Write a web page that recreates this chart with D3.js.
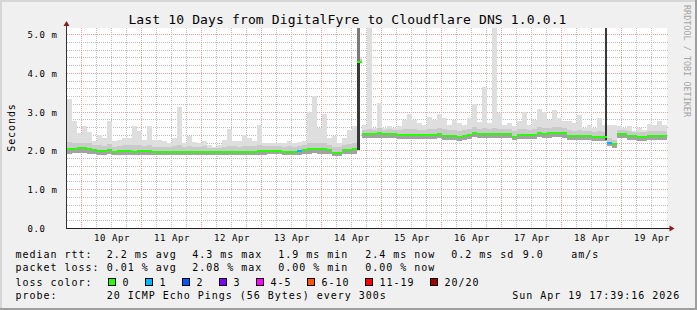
<!DOCTYPE html>
<html><head><meta charset="utf-8">
<script src="https://cdn.jsdelivr.net/npm/d3@7"></script>
<style>
html,body{margin:0;padding:0;background:#f0f0f0;}
svg{display:block;}
text{font-family:"DejaVu Sans Mono",monospace;fill:#000;}
</style></head><body>
<svg id="c" width="697" height="310"></svg>
<script>
// ---------------- data ----------------
const title = "Last 10 Days from DigitalFyre to Cloudflare DNS 1.0.0.1";
const startTime = "2026-04-09T18:00:00Z";
const endTime = "2026-04-19T18:00:00Z";
const binHours = 2;
const yTickValues = [0, 1, 2, 3, 4, 5];
const yTickLabels = ["0.0", "1.0 m", "2.0 m", "3.0 m", "4.0 m", "5.0 m"];
const xTickDays = ["2026-04-10","2026-04-11","2026-04-12","2026-04-13","2026-04-14","2026-04-15","2026-04-16","2026-04-17","2026-04-18","2026-04-19"];
const xTickLabels = ["10 Apr","11 Apr","12 Apr","13 Apr","14 Apr","15 Apr","16 Apr","17 Apr","18 Apr","19 Apr"];

// median RTT per 2h bin (ms)
const median = [
 2.03,2.04,2.06,2.05,2.03,2.00,1.98,1.98,2.00,1.97,1.98,1.98,1.98,1.97,1.98,1.98,1.98,1.96,1.95,1.95,
 1.96,1.97,1.97,1.97,1.97,1.97,1.97,1.96,1.96,1.95,1.95,1.95,1.96,1.96,1.96,1.96,1.96,1.97,1.98,1.98,
 1.99,1.99,1.99,1.97,1.97,1.97,1.98,2.00,2.03,2.04,2.03,2.03,2.00,1.93,1.93,2.00,2.01,2.03,4.29,2.42,
 2.41,2.41,2.44,2.41,2.41,2.41,2.40,2.39,2.39,2.39,2.39,2.39,2.39,2.40,2.42,2.38,2.38,2.36,2.35,2.37,
 2.40,2.46,2.41,2.41,2.41,2.41,2.41,2.41,2.41,2.35,2.39,2.39,2.39,2.40,2.46,2.43,2.45,2.46,2.46,2.44,
 2.37,2.36,2.36,2.36,2.36,2.35,2.35,2.34,2.20,2.16,2.41,2.42,2.37,2.36,2.35,2.35,2.36,2.36,2.37,2.37
];
// lowest ping per bin (ms)
const smokeLo = [
 1.92,1.93,1.94,1.93,1.92,1.90,1.89,1.89,1.90,1.88,1.89,1.89,1.89,1.88,1.89,1.89,1.89,1.87,1.87,1.87,
 1.88,1.88,1.88,1.88,1.88,1.88,1.88,1.87,1.87,1.87,1.87,1.87,1.87,1.87,1.87,1.87,1.87,1.88,1.89,1.89,
 1.90,1.90,1.90,1.88,1.88,1.88,1.89,1.90,1.92,1.93,1.92,1.92,1.90,1.86,1.86,1.90,1.91,1.92,4.25,2.32,
 2.31,2.31,2.33,2.31,2.31,2.31,2.30,2.29,2.29,2.29,2.29,2.29,2.29,2.30,2.31,2.28,2.28,2.26,2.25,2.27,
 2.30,2.34,2.31,2.31,2.31,2.31,2.31,2.31,2.31,2.26,2.29,2.29,2.29,2.30,2.34,2.32,2.33,2.34,2.34,2.33,
 2.27,2.26,2.26,2.26,2.26,2.25,2.25,2.24,2.11,2.07,2.31,2.32,2.27,2.26,2.25,2.25,2.26,2.26,2.27,2.27
];
// upper edge of the dense part of the smoke (ms)
const smokeHi = [
 2.22,2.20,2.20,2.20,2.18,2.13,2.13,2.12,2.16,2.10,2.12,2.13,2.13,2.14,2.14,2.12,2.14,2.10,2.10,2.10,
 2.10,2.12,2.14,2.10,2.12,2.10,2.10,2.11,2.07,2.06,2.07,2.10,2.12,2.11,2.10,2.12,2.12,2.11,2.14,2.12,
 2.12,2.12,2.11,2.10,2.11,2.10,2.12,2.14,2.18,2.20,2.18,2.20,2.14,2.10,2.08,2.14,2.16,2.20,4.35,2.53,
 2.56,2.52,2.58,2.52,2.54,2.52,2.53,2.54,2.56,2.54,2.53,2.53,2.55,2.54,2.58,2.54,2.52,2.52,2.50,2.52,
 2.54,2.60,2.54,2.58,2.54,2.58,2.56,2.54,2.54,2.50,2.54,2.56,2.53,2.55,2.60,2.58,2.58,2.60,2.60,2.58,
 2.52,2.50,2.52,2.50,2.50,2.48,2.50,2.48,2.32,2.28,2.53,2.53,2.50,2.48,2.48,2.48,2.50,2.50,2.50,2.50
];
// highest ping per bin (ms)
const smokeMax = [
 3.33,2.75,2.46,2.63,2.47,2.23,2.40,2.32,2.77,2.23,2.27,2.32,2.33,2.63,2.49,2.27,2.63,2.27,2.27,2.23,
 2.20,2.32,3.13,2.19,2.38,2.21,2.19,2.25,2.13,2.10,2.15,2.27,2.56,2.25,2.23,2.40,2.33,2.23,2.66,2.19,
 2.19,2.19,2.19,2.19,2.23,2.19,2.21,2.25,2.99,3.39,2.57,2.94,2.32,2.36,2.19,2.32,2.53,2.62,4.40,2.66,
 5.30,2.57,3.22,2.57,2.64,2.57,2.62,2.79,2.94,2.79,2.70,2.66,2.87,2.79,2.94,2.84,2.66,2.79,2.70,2.66,
 2.84,3.20,2.72,3.63,2.70,5.30,2.96,2.66,2.70,2.62,2.75,2.99,2.66,2.79,3.07,2.99,2.79,3.05,2.84,2.75,
 2.75,2.70,2.92,2.59,2.66,2.57,2.84,2.66,2.66,2.66,2.62,2.59,2.62,2.49,2.57,2.53,2.68,2.66,2.75,2.66
];
// bins with lost packets
const lossBin = [46, 108];
const lossCount = [1, 1];
// short bursts where all pings were spread high
const burstStart = ["2026-04-14T13:53:00Z", "2026-04-18T17:05:00Z"];
const burstEnd   = ["2026-04-14T15:12:00Z", "2026-04-18T18:07:00Z"];
const burstLo    = [2.00, 2.27];
const burstMid   = [4.25, 5.30];
const burstHi    = [5.30, 5.30];

const lossLabels = ["0","1","2","3","4-5","6-10","11-19","20/20"];
const lossUpper  = [0, 1, 2, 3, 5, 10, 19, 20];
const lossColors = ["#26ff00","#00b8ff","#0059ff","#7e00ff","#ff00ff","#ff5500","#ff0000","#a10000"];

const statRows = [
 ["median rtt:", "2.2 ms avg", "4.3 ms max", "1.9 ms min", "2.4 ms now", "0.2 ms sd", "9.0", "am/s"],
 ["packet loss:", "0.01 % avg", "2.08 % max", "0.00 % min", "0.00 % now"]
];
const probeText = "20 ICMP Echo Pings (56 Bytes) every 300s";
const stampText = "Sun Apr 19 17:39:16 2026";

// ---------------- drawing ----------------
const W = 697, H = 310;
const P = {left: 67, right: 667, top: 28, bottom: 228};
const yMax = 200 / 38.8;
const svg = d3.select("#c");
const xS = d3.scaleUtc().domain([new Date(startTime), new Date(endTime)]).range([P.left, P.right]);
const yS = d3.scaleLinear().domain([0, yMax]).range([P.bottom, P.top]);

svg.append("rect").attr("width", W).attr("height", H).attr("fill", "#f0f0f0");
svg.append("rect").attr("x",0).attr("y",0).attr("width",W).attr("height",2).attr("fill","#d6d6d6");
svg.append("rect").attr("x",0).attr("y",0).attr("width",2).attr("height",H).attr("fill","#d6d6d6");
svg.append("rect").attr("x",0).attr("y",H-2).attr("width",W).attr("height",2).attr("fill","#9e9e9e");
svg.append("rect").attr("x",W-2).attr("y",0).attr("width",2).attr("height",H).attr("fill","#9e9e9e");
svg.append("rect").attr("x", P.left).attr("y", P.top).attr("width", P.right-P.left).attr("height", P.bottom-P.top).attr("fill", "#fff");

// grid
const grid = svg.append("g").attr("shape-rendering","crispEdges");
d3.range(1, 26).forEach(k => {
  const v = k * 0.2;
  const y = Math.round(yS(v)) + 0.5;
  const major = k % 5 === 0;
  grid.append("line").attr("x1", P.left).attr("x2", P.right+1).attr("y1", y).attr("y2", y)
    .attr("stroke", major ? "#e3a0a0" : "#bdbdbd").attr("stroke-dasharray", "1,1");
});
const t0 = +new Date(startTime);
d3.range(1, 40).forEach(k => {
  const t = new Date(t0 + k * 6 * 3600e3);
  const x = Math.round(xS(t)) - 0.5;
  const major = t.getUTCHours() === 0;
  grid.append("line").attr("x1", x).attr("x2", x).attr("y1", P.top).attr("y2", P.bottom)
    .attr("stroke", major ? "#e3a0a0" : "#bdbdbd").attr("stroke-dasharray", "1,1");
});

// data
svg.append("clipPath").attr("id","pc").append("rect")
  .attr("x", P.left).attr("y", P.top).attr("width", P.right-P.left).attr("height", P.bottom-P.top);
const dg = svg.append("g").attr("clip-path","url(#pc)").attr("shape-rendering","crispEdges");
const binMs = binHours * 3600e3;
const bins = median.map((m, i) => ({
  x0: xS(new Date(t0 + i*binMs)), x1: xS(new Date(t0 + (i+1)*binMs)),
  m, lo: smokeLo[i], hi: smokeHi[i], mx: smokeMax[i]
}));
function layer(a, b, color) {
  dg.append("g").selectAll("rect").data(bins).join("rect")
    .attr("x", d => d.x0).attr("width", d => d.x1 - d.x0)
    .attr("y", d => yS(d[b])).attr("height", d => Math.max(0, yS(d[a]) - yS(d[b])))
    .attr("fill", color);
}
layer("lo", "mx", "#dedede");
layer("lo", "hi", "#cacaca");
layer("lo", "m", "#a2a2a2");

burstStart.forEach((s, i) => {
  const xa = xS(new Date(s)), xb = xS(new Date(burstEnd[i]));
  dg.append("rect").attr("x", xa).attr("width", xb-xa)
    .attr("y", yS(burstMid[i])).attr("height", yS(burstLo[i]) - yS(burstMid[i])).attr("fill", "#383838");
  if (burstHi[i] > burstMid[i])
    dg.append("rect").attr("x", xa).attr("width", xb-xa)
      .attr("y", yS(burstHi[i])).attr("height", yS(burstMid[i]) - yS(burstHi[i])).attr("fill", "#7a7a7a");
});

function lossColor(n) {
  for (let k = 0; k < lossUpper.length; k++) if (n <= lossUpper[k]) return lossColors[k];
  return lossColors[lossColors.length-1];
}
dg.append("g").selectAll("rect").data(bins).join("rect")
  .attr("x", d => d.x0).attr("width", d => d.x1 - d.x0)
  .attr("y", d => yS(d.m) - 1).attr("height", 2)
  .attr("fill", (d, i) => { const j = lossBin.indexOf(i); return lossColor(j < 0 ? 0 : lossCount[j]); });

// axes
svg.append("line").attr("x1", 66).attr("x2", 670).attr("y1", 228.5).attr("y2", 228.5).attr("stroke", "#202020");
svg.append("line").attr("x1", 66.5).attr("x2", 66.5).attr("y1", 229).attr("y2", 25).attr("stroke", "#303030");
svg.append("path").attr("d", "M66.5,21 L63.5,26 L69.5,26 Z").attr("fill", "#8b1a1a");
svg.append("path").attr("d", "M674.5,228.5 L669.5,225.5 L669.5,231.5 Z").attr("fill", "#8b1a1a");

// tick labels
yTickValues.forEach((v, i) => {
  svg.append("text").attr("x", 27.5).attr("y", Math.round(yS(v)) + 0.5 + 3.3)
    .attr("font-size", "9px").attr("letter-spacing", "0.58px").text(yTickLabels[i]);
});
xTickDays.forEach((d, i) => {
  const x = xS(new Date(d + "T12:00:00Z"));
  svg.append("text").attr("x", x).attr("y", 240.7).attr("text-anchor", "middle")
    .attr("font-size", "9px").attr("letter-spacing", "0.58px").text(xTickLabels[i]);
});

// titles
svg.append("text").attr("x", 347.5).attr("y", 24).attr("text-anchor", "middle")
  .attr("font-size", "13px").attr("letter-spacing", "0.14px").text(title);
svg.append("text").attr("transform", "translate(15,127.5) rotate(-90)").attr("text-anchor", "middle")
  .attr("font-size", "10px").attr("letter-spacing", "0.9px").text("Seconds");
svg.append("text").attr("transform", "translate(684.3,5) rotate(90)")
  .attr("font-size", "8.4px").attr("letter-spacing", "0.05px").style("fill", "#a4a4a4").text("RRDTOOL / TOBI OETIKER");

// legend
const LF = {size: "10px", ls: "0.98px"};
function ltext(x, y, s) {
  svg.append("text").attr("x", x).attr("y", y).attr("font-size", LF.size).attr("letter-spacing", LF.ls)
    .attr("xml:space", "preserve").text(s);
}
const colX = [15.5, 106.8, 192.2, 278.2, 365.2, 451.2, 522.8, 571.2];
statRows.forEach((row, r) => {
  const y = r === 0 ? 257.6 : 271.3;
  row.forEach((s, c) => ltext(colX[c], y, s));
});
ltext(15.5, 285.5, "loss color:");
const boxX = [108, 145, 182, 219, 256, 307, 365, 430];
lossLabels.forEach((s, i) => {
  svg.append("rect").attr("x", boxX[i] + 0.5).attr("y", 278.5).attr("width", 7).attr("height", 7)
    .attr("fill", lossColors[i]).attr("stroke", "#000").attr("stroke-width", 1);
  ltext(boxX[i] + 14.4, 285.5, s);
});
ltext(15.5, 299, "probe:");
ltext(106.8, 299, probeText);
ltext(512.2, 299, stampText);
</script>
</body></html>
